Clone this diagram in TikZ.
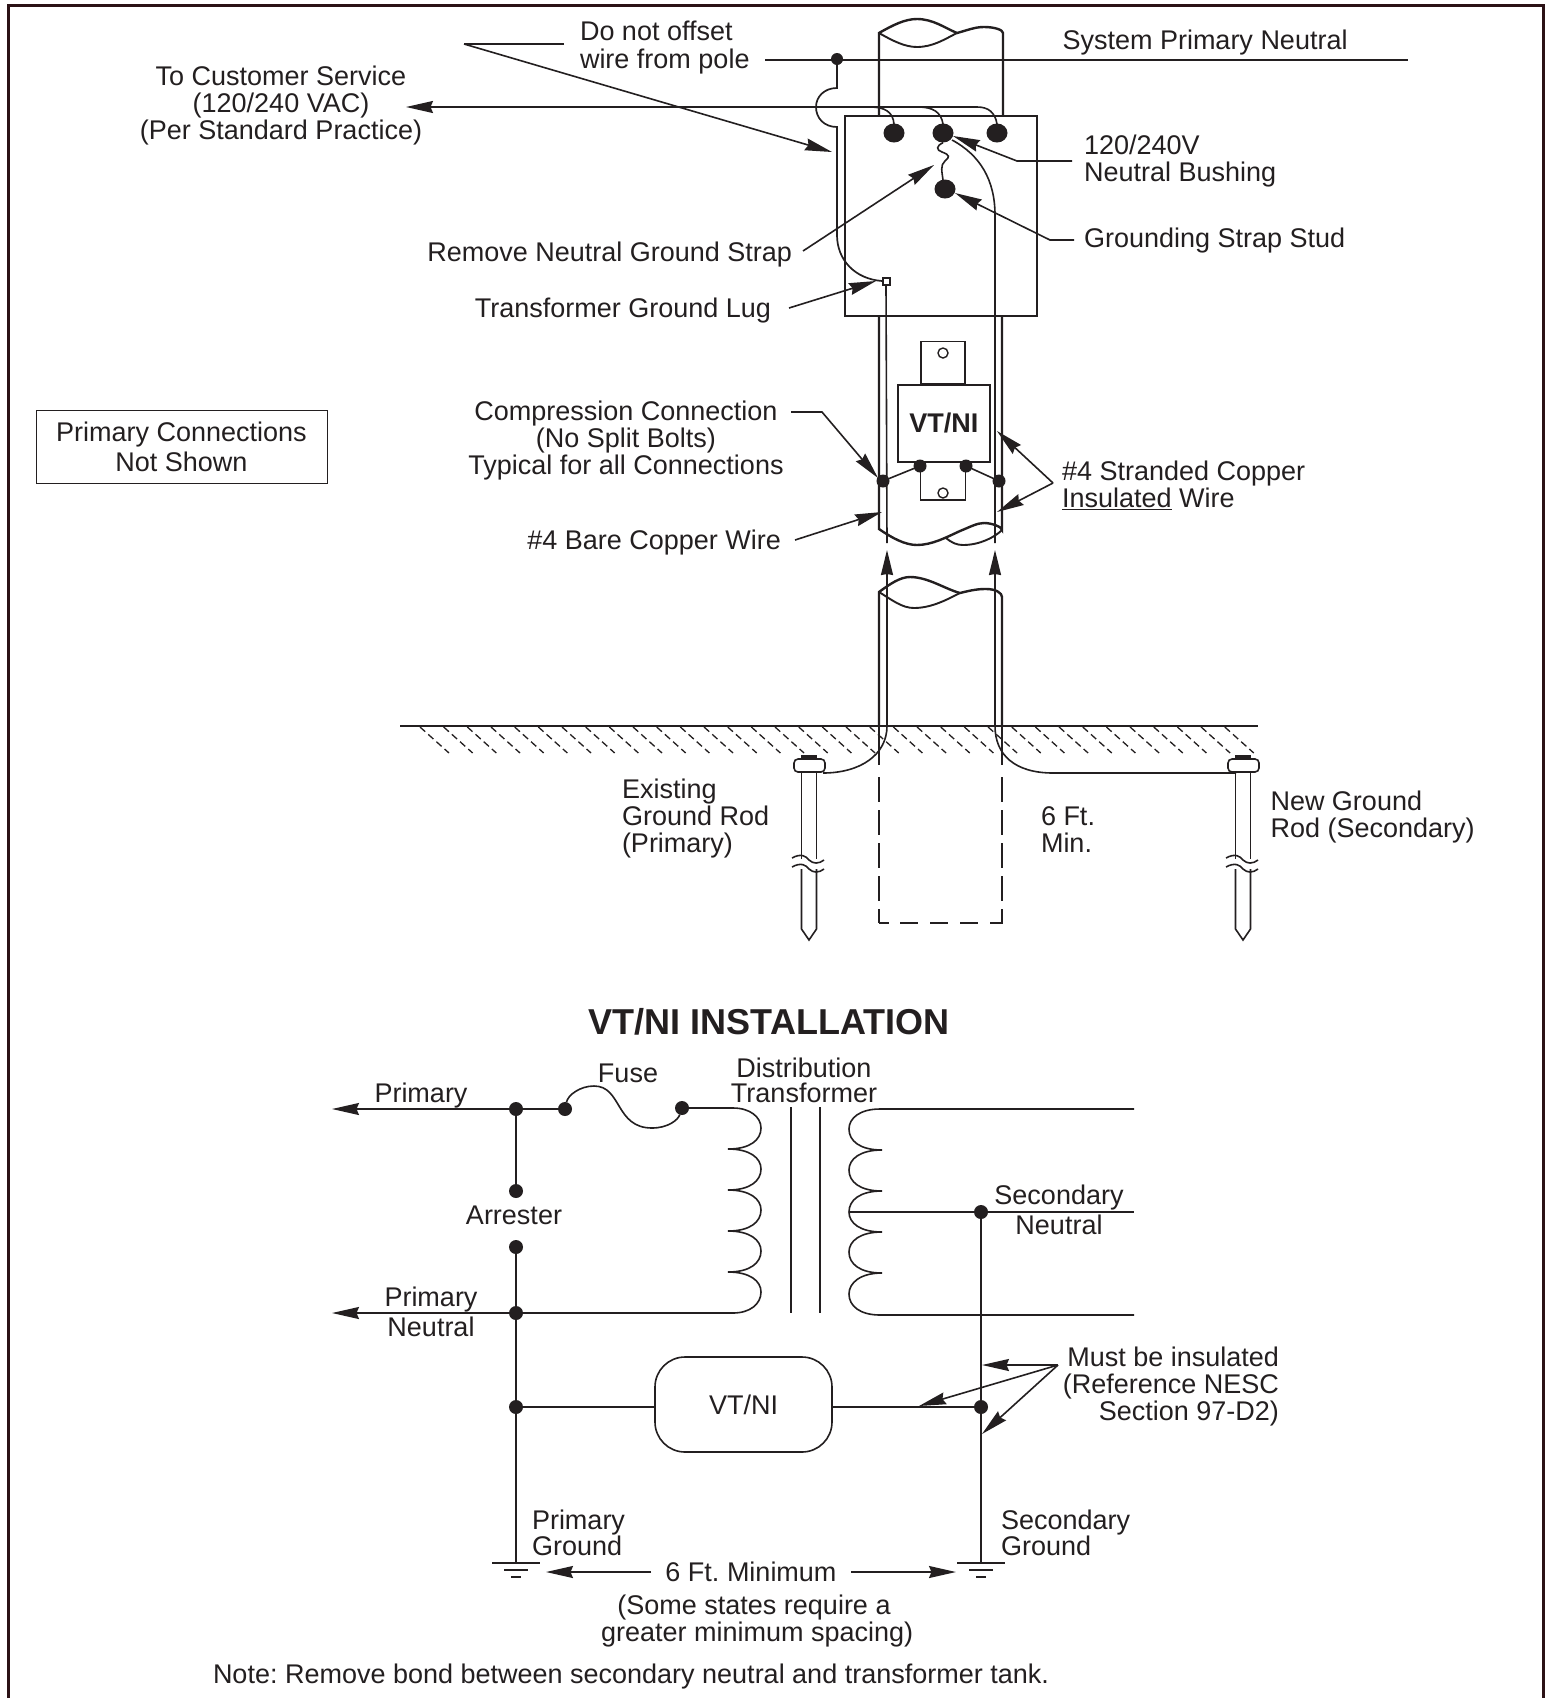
\documentclass[tikz,border=0pt]{standalone}
\usepackage{fontspec}
\setmainfont{Liberation Sans}
\usetikzlibrary{arrows.meta,shapes.geometric}
\definecolor{ink}{HTML}{231F20}
\definecolor{framec}{HTML}{2B1216}
\tikzset{
  x=1pt,y=-1pt,
  lbl/.style={inner sep=0pt,outer sep=0pt,text=ink,yshift=-2pt,font=\fontsize{27}{27}\selectfont},
  ln/.style={draw=ink,line width=1.6pt},
  hv/.style={draw=ink,line width=2.4pt},
  tip/.style={draw=ink,line width=1.6pt,-{Stealth[length=27pt,width=12pt,inset=2.5pt]}},
  dot/.style={circle,fill=ink,minimum size=13pt,inner sep=0pt,outer sep=0pt},
  bush/.style={ellipse,fill=ink,minimum width=21pt,minimum height=19pt,inner sep=0pt},
  hole/.style={circle,draw=ink,line width=1.4pt,fill=white,minimum size=10pt,inner sep=0pt},
  rodhead/.style={draw=ink,line width=1.6pt,fill=white,rounded corners=4pt},
}
\begin{document}
\frenchspacing
\begin{tikzpicture}
\useasboundingbox (0,0) rectangle (1551,1698);
\fill[white] (0,0) rectangle (1551,1698);
\draw[framec,line width=3pt] (8,1698) -- (8,5) -- (1543,5) -- (1543,1698);

% upper pole
\draw[hv] (879,115) -- (879,33) .. controls (893,25) and (905,19) .. (917,19) .. controls (933,19) and (945,28) .. (957,33) .. controls (968,30) and (975,27) .. (984,27) .. controls (995,27) and (1003,30) .. (1003,33) -- (1003,115);
\draw[ln,line width=1.9pt] (879,33) .. controls (893,41) and (905,47) .. (917,47) .. controls (933,47) and (945,39) .. (957,33);
% neutral
\coordinate (nl) at (765,60); \coordinate (nr) at (1408,60);
\draw[ln] (nl) -- (nr);
\node[dot,minimum size=12pt] (ndot) at (837,59) {};
\draw[ln,line width=1.7pt] (ndot) -- (837,88) .. controls (824,88) and (816,97) .. (816,107) .. controls (816,118) and (824,127) .. (837,127) -- (837,235) .. controls (837,260) and (855,279) .. (882,281);
% transformer
\node[draw=ink,line width=2.2pt,minimum width=192pt,minimum height=200pt,inner sep=0pt,anchor=north west] (xf) at (844,115) {};
\node[bush] (b1) at (894,133) {};
\node[bush] (b2) at (943,133) {};
\node[bush] (b3) at (997,133) {};
\node[bush] (sd) at (945,189) {};
% service
\coordinate (svc) at (406,107);
\draw[tip] (870,107) -- (svc);
\draw[ln] (870,107) -- (977,107);
\draw[ln] (870,107) .. controls (885,107) and (893,112) .. (894,124);
\draw[ln] (918,107) .. controls (933,107) and (941,112) .. (943,124);
\draw[ln] (977,107) .. controls (988,107) and (995,112) .. (997,124);
% strap
\draw[ln] (b2.south) .. controls (936,146) and (936,150) .. (942,152) .. controls (950,155) and (950,157) .. (945,161) .. controls (940,165) and (942,172) .. (943,180);
% wires in transformer
\node[draw=ink,line width=2pt,fill=white,minimum size=7pt,inner sep=0pt] (lug) at (886,281) {};
\draw[ln] (lug.south) -- (887,543);
\draw[ln] (952,140) .. controls (980,155) and (995,180) .. (995,215) -- (995,543);
% pole middle
\draw[hv] (879,315) -- (879,529) .. controls (892,538) and (905,545) .. (917,545) .. controls (932,545) and (947,537) .. (960,531) .. controls (970,527) and (977,523) .. (984,523) .. controls (992,523) and (1002,527) .. (1002,530) -- (1002,315);
\draw[ln,line width=1.9pt] (946,538) .. controls (952,543) and (957,545) .. (963,545) .. controls (980,545) and (995,537) .. (1002,530);
% VT/NI unit
\node[draw=ink,line width=1.5pt,minimum width=44pt,minimum height=42pt,inner sep=0pt,anchor=south] (tabu) at (943,384) {};
\node[draw=ink,line width=1.5pt,minimum width=45pt,minimum height=38pt,inner sep=0pt,anchor=north] (tabl) at (943,461) {};
\node[hole] at (943,353) {};
\node[hole] at (943,493) {};
\node[draw=ink,line width=1.6pt,fill=white,minimum width=92pt,minimum height=77pt,inner sep=0pt,anchor=north west,text=ink,font=\fontsize{27}{27}\selectfont\bfseries] (vt) at (897,384) {VT/NI};
\node[dot] (d1) at (883,481) {};
\node[dot] (d2) at (920,466) {};
\node[dot] (d3) at (966,466) {};
\node[dot] (d4) at (999,481) {};
\draw[ln] (d1) -- (d2); \draw[ln] (d3) -- (d4);
% lower pole
\draw[hv] (879,726) -- (879,592) .. controls (890,584) and (900,577) .. (910,577) .. controls (928,577) and (945,589) .. (960,593) .. controls (972,590) and (978,589) .. (986,589) .. controls (996,589) and (1002,593) .. (1002,597) -- (1002,726);
\draw[ln,line width=1.9pt] (879,592) .. controls (892,600) and (902,608) .. (914,608) .. controls (932,608) and (948,599) .. (960,593);
% wires up arrows
\draw[draw=ink,line width=1.6pt,-{Stealth[length=25pt,width=12pt,inset=1pt]}] (887,726) -- (887,550);
\draw[draw=ink,line width=1.6pt,-{Stealth[length=25pt,width=12pt,inset=1pt]}] (995,726) -- (995,550);

% ground
\coordinate (gl) at (400,726); \coordinate (gr) at (1258,726);
\draw[ln,line width=1.7pt] (gl) -- (gr);
\foreach \i in {0,...,34} {
  \draw[ink,line width=1.3pt,dash pattern=on 7pt off 4pt] ({420+\i*23.67},727) -- ++(29,26);
}
\draw[ink,line width=1.4pt] (879,726) -- (879,765) (1002,726) -- (1002,765);
\draw[ink,line width=1.4pt,dash pattern=on 25pt off 8pt] (879,777) -- (879,923);
\draw[ink,line width=1.4pt,dash pattern=on 25pt off 8pt] (1002,777) -- (1002,923);
\draw[ink,line width=1.4pt] (879,923) -- (889,923);
\draw[ink,line width=1.4pt,dash pattern=on 18pt off 12pt] (900,923) -- (1003,923);
\draw[ln] (887,726) .. controls (887,755) and (860,773) .. (823,773);
\draw[ln] (995,726) .. controls (995,755) and (1015,773) .. (1053,773) -- (1236,773);
% rods
\foreach \cx in {809,1243} {
  \fill[ink] (\cx-8,755) rectangle (\cx+8,760);
  \draw[ln] (\cx-7.5,772) -- (\cx-7.5,859) (\cx+7.5,772) -- (\cx+7.5,859);
  \draw[ln] (\cx-7.5,869) -- (\cx-7.5,929) -- (\cx,940) -- (\cx+7.5,929) -- (\cx+7.5,869);
  \draw[rodhead] (\cx-15,759) rectangle (\cx+16,772);
  \draw[ln] (\cx-17,858) .. controls (\cx-8,853) and (\cx-3,856) .. (\cx,860) .. controls (\cx+4,864) and (\cx+10,864) .. (\cx+15,860);
  \draw[ln] (\cx-17,867) .. controls (\cx-8,862) and (\cx-3,865) .. (\cx,869) .. controls (\cx+4,873) and (\cx+10,873) .. (\cx+15,869);
}

% leaders
\coordinate (l1) at (464,44);
\draw[ln] (564,44) -- (l1);
\coordinate (l1t) at (832,152);
\draw[tip] (l1) -- (l1t);
\coordinate (l2a) at (1072,161); \coordinate (l2b) at (1017,161);
\draw[tip] (l2a) -- (l2b) -- (953,136);
\coordinate (l3a) at (1074,240); \coordinate (l3b) at (1050,240);
\draw[tip] (l3a) -- (l3b) -- (955,193);
\coordinate (l4) at (803,251); \coordinate (l4t) at (934,165);
\draw[tip] (l4) -- (l4t);
\coordinate (l5) at (789,308); \coordinate (l5t) at (876,281);
\draw[tip] (l5) -- (l5t);
\coordinate (l6a) at (791,412); \coordinate (l6b) at (822,412);
\draw[tip] (l6a) -- (l6b) -- (878,478);
\coordinate (l7) at (1053,483);
\draw[tip] (l7) -- (997,431);
\draw[tip] (l7) -- (997,512);
\coordinate (l8) at (795,540);
\draw[tip] (l8) -- (882,512);

% labels upper
\node[lbl,align=left,anchor=west] (t1) at (580,45.5) {Do not offset\\[1.5pt]wire from pole};
\node[lbl,align=center] (t2) at (281,104) {To Customer Service\\(120/240 VAC)\\(Per Standard Practice)};
\node[lbl,anchor=west] (t3) at (1062.5,41) {System Primary Neutral};
\node[lbl,align=left,anchor=west] (t4) at (1084,159) {120/240V\\Neutral Bushing};
\node[lbl,anchor=west] (t5) at (1084,239) {Grounding Strap Stud};
\node[lbl,anchor=east] (t6) at (792,253) {Remove Neutral Ground Strap};
\node[lbl,anchor=east] (t7) at (771,309) {Transformer Ground Lug};
\node[draw=ink,line width=1pt,minimum width=291pt,minimum height=73pt,inner sep=0pt,align=center,text=ink,font=\fontsize{27}{30}\selectfont] (t8) at (181.5,446.5) {Primary Connections\\Not Shown};
\node[lbl,align=center] (t9) at (626,439) {Compression Connection\\(No Split Bolts)\\Typical for all Connections};
\node[lbl,align=left,anchor=west] (t10) at (1062,483) {\#4 Stranded Copper\\\underline{Insulated} Wire};
\node[lbl,anchor=east] (t11) at (781,541) {\#4 Bare Copper Wire};
\node[lbl,align=left,anchor=west] (t12) at (622,817) {Existing\\Ground Rod\\(Primary)};
\node[lbl,align=left,anchor=west] (t13) at (1041,828) {6 Ft.\\Min.};
\node[lbl,align=left,anchor=west] (t14) at (1270.5,815) {New Ground\\Rod (Secondary)};
\node[text=ink,inner sep=0pt,font=\fontsize{36}{38}\selectfont\bfseries] (title) at (769,1022) {VT/NI INSTALLATION};

% schematic
\node[dot,minimum size=14pt] (p1) at (516,1109) {};
\node[dot,minimum size=14pt] (f1) at (565,1109) {};
\node[dot,minimum size=14pt] (f2) at (682,1108) {};
\node[dot,minimum size=14pt] (a1) at (516,1191) {};
\node[dot,minimum size=14pt] (a2) at (516,1247) {};
\node[dot,minimum size=14pt] (p2) at (516,1313) {};
\node[dot,minimum size=14pt] (p3) at (516,1407) {};
\coordinate (pa) at (332,1109); \coordinate (na) at (332,1313);
\draw[tip] (p1) -- (pa);
\draw[ln] (p1) -- (f1);
\draw[ln] (p1) -- (a1);
\draw[ln] (a2) -- (p2);
\draw[tip] (p2) -- (na);
\draw[ln] (f1) .. controls (568,1095) and (580,1086) .. (594,1086) .. controls (622,1086) and (615,1128) .. (652,1128) .. controls (668,1128) and (678,1120) .. (f2);
\draw[ln] (f2) -- (733,1108) .. controls (750,1108) and (761,1117) .. (761,1128) .. controls (761,1140) and (750,1149) .. (728,1149)
 .. controls (750,1149) and (761,1158) .. (761,1169) .. controls (761,1181) and (750,1190) .. (728,1190)
 .. controls (750,1190) and (761,1199) .. (761,1210) .. controls (761,1222) and (750,1231) .. (728,1231)
 .. controls (750,1231) and (761,1240) .. (761,1251) .. controls (761,1263) and (750,1272) .. (728,1272)
 .. controls (750,1272) and (761,1281) .. (761,1292) .. controls (761,1304) and (750,1313) .. (733,1313) -- (p2);
\coordinate (c1t) at (791,1107); \coordinate (c1b) at (791,1313);
\coordinate (c2t) at (820,1107); \coordinate (c2b) at (820,1313);
\draw[ln] (c1t) -- (c1b); \draw[ln] (c2t) -- (c2b);
\coordinate (st) at (1134,1109); \coordinate (sb) at (1134,1315); \coordinate (sm) at (1134,1212);
\draw[ln] (st) -- (880,1109) .. controls (860,1109) and (849,1118) .. (849,1129) .. controls (849,1141) and (860,1150) .. (882,1150)
 .. controls (860,1150) and (849,1159) .. (849,1170) .. controls (849,1182) and (860,1191) .. (882,1191)
 .. controls (860,1191) and (849,1200) .. (849,1212) .. controls (849,1223) and (860,1232) .. (882,1232)
 .. controls (860,1232) and (849,1241) .. (849,1252) .. controls (849,1264) and (860,1273) .. (882,1273)
 .. controls (860,1273) and (849,1283) .. (849,1294) .. controls (849,1306) and (860,1315) .. (880,1315) -- (sb);
\draw[ln] (849,1212) -- (sm);
\node[dot,minimum size=14pt] (s1) at (981,1212) {};
\node[dot,minimum size=14pt] (s2) at (981,1407) {};
\node[draw=ink,line width=1.6pt,rounded corners=30pt,minimum width=177pt,minimum height=95pt,inner sep=0pt,text=ink,font=\fontsize{27}{27}\selectfont] (vt2) at (743.5,1404.5) {VT/NI};
\draw[ln] (p2) -- (p3) -- (vt2.west |- p3);
\draw[ln] (vt2.east |- s2) -- (s2);
\coordinate (g1) at (516,1563); \coordinate (g2) at (981,1563);
\draw[ln] (p3) -- (g1);
\draw[ln] (s1) -- (g2);
\foreach \c in {g1,g2} {
  \draw[ln] ([xshift=-24pt]\c) -- ([xshift=24pt]\c);
  \draw[ln] ([xshift=-12pt,yshift=-7pt]\c) -- ([xshift=12pt,yshift=-7pt]\c);
  \draw[ln] ([xshift=-5pt,yshift=-14pt]\c) -- ([xshift=5pt,yshift=-14pt]\c);
}
\coordinate (m0) at (1058,1365);
\draw[tip] (m0) -- (982,1365);
\draw[tip] (m0) -- (919,1406);
\draw[tip] (m0) -- (982,1434);
\coordinate (a6l) at (651,1572); \coordinate (a6lt) at (546,1572);
\coordinate (a6r) at (851,1572); \coordinate (a6rt) at (956,1572);
\draw[tip] (a6l) -- (a6lt);
\draw[tip] (a6r) -- (a6rt);

\node[lbl] (s01) at (421,1094) {Primary};
\node[lbl] (s02) at (628,1071) {Fuse};
\node[lbl,align=center,font=\fontsize{27}{25}\selectfont] (s03) at (804,1078) {Distribution\\Transformer};
\node[lbl] (s04) at (514,1213) {Arrester};
\node[lbl,align=center,font=\fontsize{27}{30}\selectfont] (s05) at (1059,1208) {Secondary\\Neutral};
\node[lbl,align=center,font=\fontsize{27}{30}\selectfont] (s06) at (431,1310) {Primary\\Neutral};
\node[lbl,align=right,anchor=east] (s07) at (1279,1384) {Must be insulated\\(Reference NESC\\Section 97-D2)};
\node[lbl,align=left,anchor=west,font=\fontsize{27}{25}\selectfont] (s08) at (532,1531) {Primary\\Ground};
\node[lbl,align=left,anchor=west,font=\fontsize{27}{25}\selectfont] (s09) at (1001,1531) {Secondary\\Ground};
\node[lbl] (s10) at (751,1570) {6 Ft. Minimum};
\node[lbl,align=center] (s11) at (754,1619) {(Some states require a\\\hspace*{6.5pt}greater minimum spacing)};
\node[lbl,anchor=west] (s12) at (213,1674) {Note: Remove bond between secondary neutral and transformer tank.};
\end{tikzpicture}
\end{document}
